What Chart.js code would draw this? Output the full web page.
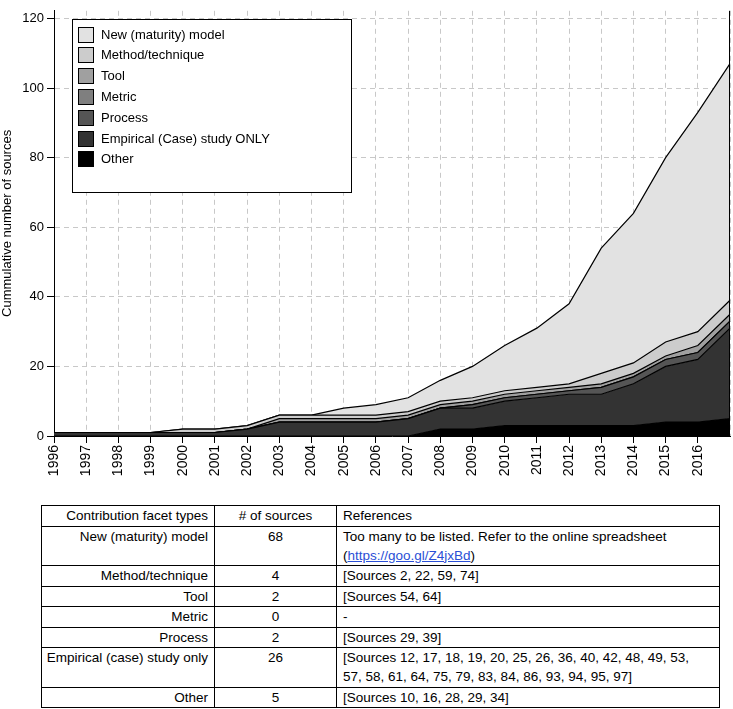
<!DOCTYPE html>
<html>
<head>
<meta charset="utf-8">
<script src="https://cdn.jsdelivr.net/npm/chart.js@4.4.1/dist/chart.umd.min.js"></script>
<style>
body { margin: 0; background: #fff; font-family: "Liberation Sans", Arial, Helvetica, sans-serif; }
#wrap { position: relative; width: 733px; height: 482px; }
#facets { position: absolute; left: 41px; top: 505px; width: 679px; border-collapse: collapse; font-size: 13.5px; line-height: 19px; color: #000; table-layout: fixed; }
#facets td { border: 1px solid #000; padding: 0.25px 6px; vertical-align: top; white-space: nowrap; }
#facets td.c1 { text-align: right; width: 166px; padding-left: 0; padding-right: 6px; }
#facets td.c2 { text-align: center; width: 109px; }
#facets td.c3 { text-align: left; }
#facets a { color: #2a4fd6; }
</style>
</head>
<body>
<div id="wrap"><canvas id="areaChart"></canvas></div>
<table id="facets"></table>
<script>
// cumulative number of sources per year, 2017 is the right edge (no label)
var years = ['1996','1997','1998','1999','2000','2001','2002','2003','2004','2005','2006',
             '2007','2008','2009','2010','2011','2012','2013','2014','2015','2016','2017'];

var other      = [0,0,0,0,0,0,0,0,0,0,0,0,2,2,3,3,3,3,3,4,4,5];
var empirical  = [1,1,1,1,1,1,2,4,4,4,4,5,6,6,7,8,9,9,12,16,18,26];
var process    = [0,0,0,0,0,0,0,0,0,0,0,0,0,1,1,1,1,2,2,2,2,2];
var metric     = [0,0,0,0,0,0,0,0,0,0,0,0,0,0,0,0,0,0,0,0,0,0];
var tool       = [0,0,0,0,0,0,0,1,1,1,1,1,1,1,1,1,1,1,1,1,2,2];
var methodTech = [0,0,0,0,1,1,1,1,1,1,1,1,1,1,1,1,1,3,3,4,4,4];
var newModel   = [0,0,0,0,0,0,0,0,0,2,3,4,6,9,13,17,23,36,43,53,63,68];

var yTicks = [0, 20, 40, 60, 80, 100, 120];

// table under the chart
var facetTypes = ['New (maturity) model', 'Method/technique', 'Tool', 'Metric', 'Process', 'Empirical (case) study only', 'Other'];
var sourceCounts = [68, 4, 2, 0, 2, 26, 5];
var references = [
  'Too many to be listed. Refer to the online spreadsheet<br>(<a href="https://goo.gl/Z4jxBd">https://goo.gl/Z4jxBd</a>)',
  '[Sources 2, 22, 59, 74]',
  '[Sources 54, 64]',
  '-',
  '[Sources 29, 39]',
  '[Sources 12, 17, 18, 19, 20, 25, 26, 36, 40, 42, 48, 49, 53,<br>57, 58, 61, 64, 75, 79, 83, 84, 86, 93, 94, 95, 97]',
  '[Sources 10, 16, 28, 29, 34]'
];

var table = document.getElementById('facets');
var html = '<tr><td class="c1">Contribution facet types</td><td class="c2"># of sources</td><td class="c3">References</td></tr>';
for (var i = 0; i < facetTypes.length; i++) {
  html += '<tr><td class="c1">' + facetTypes[i] + '</td><td class="c2">' + sourceCounts[i] +
          '</td><td class="c3">' + references[i] + '</td></tr>';
}
table.innerHTML = html;

Chart.defaults.font.family = '"Liberation Sans", Arial, Helvetica, sans-serif';
Chart.defaults.font.size = 13;
Chart.defaults.color = '#000';

function layer(label, values, color, fill) {
  return {
    label: label,
    data: values,
    backgroundColor: color,
    borderColor: '#000',
    borderWidth: 1.2,
    pointRadius: 0,
    tension: 0,
    fill: fill
  };
}

// frame line on the right + legend box inside the plot
var insideLegend = {
  id: 'insideLegend',
  afterDraw: function(chart) {
    var ctx = chart.ctx, a = chart.chartArea;
    ctx.save();
    ctx.strokeStyle = '#000';
    ctx.lineWidth = 1;
    ctx.beginPath();
    ctx.moveTo(a.right - 0.5, a.top);
    ctx.lineTo(a.right - 0.5, a.bottom);
    ctx.stroke();

    ctx.fillStyle = '#fff';
    ctx.fillRect(72.5, 19.5, 279, 173);
    ctx.strokeRect(72.5, 19.5, 279, 173);

    ctx.font = '13px "Liberation Sans", Arial, sans-serif';
    ctx.textBaseline = 'middle';
    var ds = chart.data.datasets.slice().reverse();
    ds.forEach(function(d, i) {
      var cy = Math.round(34.5 + i * 20.8);
      ctx.fillStyle = d.backgroundColor;
      ctx.fillRect(78, cy - 8, 15, 15);
      ctx.strokeRect(78.5, cy - 7.5, 15, 15);
      ctx.fillStyle = '#000';
      ctx.fillText(d.label, 101, cy + 0.5);
    });
    ctx.restore();
  }
};

var chart = new Chart('areaChart', {
  type: 'line',
  data: {
    labels: years,
    datasets: [
      layer('Other', other, '#000000', 'origin'),
      layer('Empirical (Case) study ONLY', empirical, '#333333', '-1'),
      layer('Process', process, '#555555', '-1'),
      layer('Metric', metric, '#7f7f7f', '-1'),
      layer('Tool', tool, '#a0a0a0', '-1'),
      layer('Method/technique', methodTech, '#cccccc', '-1'),
      layer('New (maturity) model', newModel, '#e2e2e2', '-1')
    ]
  },
  options: {
    responsive: true,
    maintainAspectRatio: false,
    animation: false,
    layout: { padding: { left: 0, right: 3, top: 0, bottom: 0 } },
    plugins: { legend: { display: false }, tooltip: { enabled: false } },
    scales: {
      x: {
        offset: false,
        grid: {
          color: '#c8c8c8',
          tickLength: 7,
          tickColor: function(c) { return c.index === years.length - 1 ? 'rgba(0,0,0,0)' : '#000'; }
        },
        border: { color: '#000', width: 1, dash: [5, 4] },
        ticks: {
          autoSkip: false,
          maxRotation: 90,
          minRotation: 90,
          padding: 2,
          font: { size: 14 },
          callback: function(v, i) { return i === years.length - 1 ? '' : years[i]; }
        },
        afterFit: function(s) { s.height = 46; s.paddingLeft = 0; s.paddingRight = 0; }
      },
      y: {
        stacked: true,
        min: 0,
        max: 122.2,
        grid: { color: '#c8c8c8', tickLength: 7, tickColor: '#000' },
        border: { color: '#000', width: 1, dash: [5, 4] },
        ticks: { stepSize: 20, includeBounds: false, padding: 3 },
        afterBuildTicks: function(s) { s.ticks = yTicks.map(function(v) { return { value: v }; }); },
        title: { display: true, text: 'Cummulative number of sources', padding: { top: 0, bottom: 0 } },
        afterFit: function(s) { s.width = 54; }
      }
    }
  },
  plugins: [insideLegend]
});
</script>
</body>
</html>
